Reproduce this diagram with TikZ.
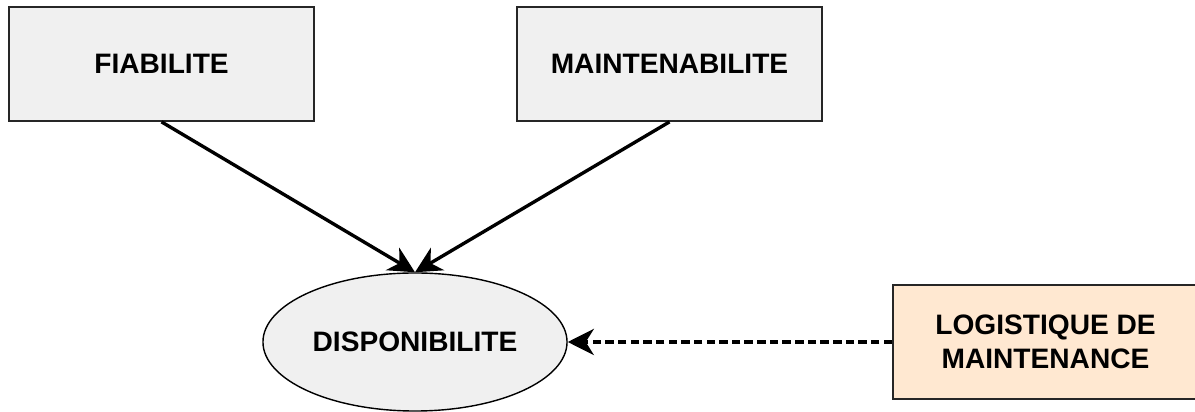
\documentclass[tikz,border=0pt]{standalone}
\usepackage{fontspec}
\setmainfont{Liberation Sans}
\usetikzlibrary{arrows.meta,shapes.geometric}
\begin{document}
\begin{tikzpicture}[
x=0.025cm,y=0.025cm,
box/.style={draw={black!85},line width=1.2pt,minimum width=7.625cm,minimum height=2.85cm,
  left color={black!6},middle color=white,right color={black!6},
  font=\fontsize{20}{24}\selectfont\bfseries,align=center},
logi/.style={box,left color={orange!18},middle color=white,right color={orange!18}},
dispo/.style={ellipse,draw=black,line width=1pt,minimum width=7.6cm,minimum height=3.45cm,
  left color={black!6},middle color=white,right color={black!6},
  font=\fontsize{20}{24}\selectfont\bfseries},
fleche/.style={line width=2.4pt,-{Stealth[length=6.5mm,width=6.5mm,inset=2mm]}},
]
\useasboundingbox (0,0) rectangle (1195,412);
\node[box] (fiab) at (161.5,348) {FIABILITE};
\node[box] (maint) at (669.5,348) {MAINTENABILITE};
\node[dispo] (dispo) at (415,70) {DISPONIBILITE};
\node[logi] (logi) at (1045.5,70) {LOGISTIQUE DE\\MAINTENANCE};
\draw[fleche] (fiab.south) -- (dispo.north);
\draw[fleche] (maint.south) -- (dispo.north);
\draw[fleche,line width=3pt,dash pattern=on 6pt off 3pt] (logi.west) -- (dispo.east);
\end{tikzpicture}
\end{document}
